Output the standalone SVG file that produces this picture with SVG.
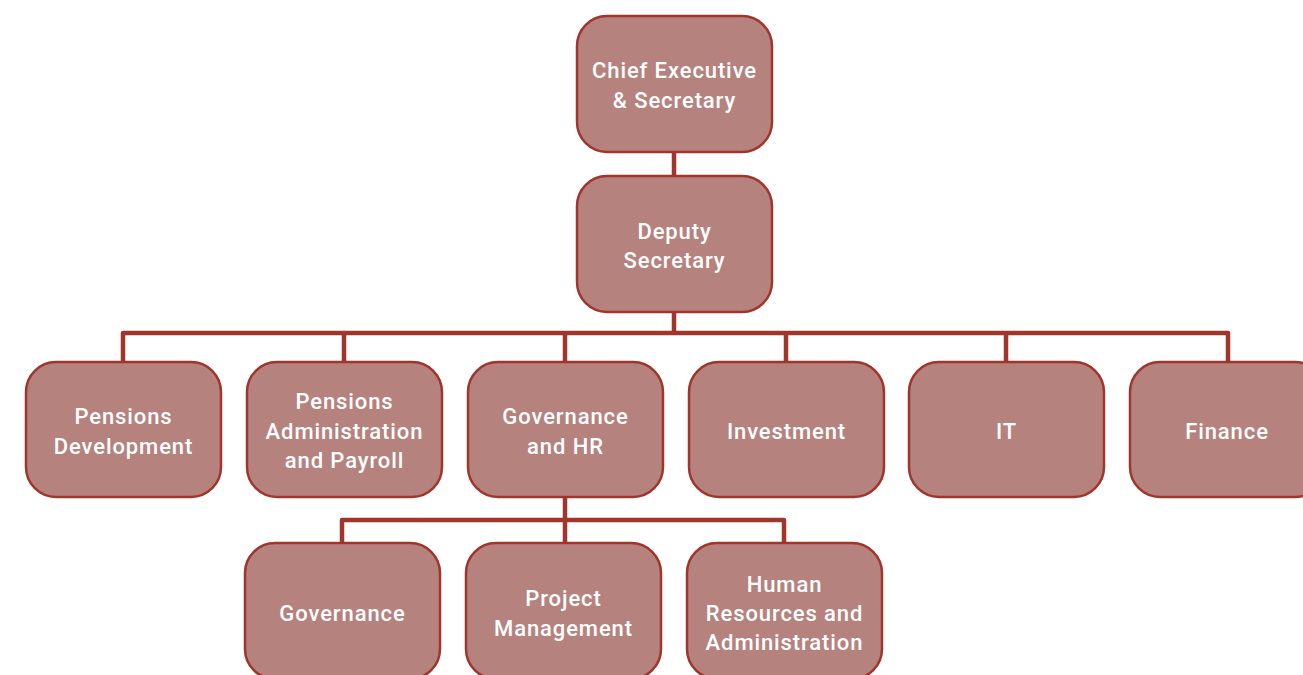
<svg xmlns="http://www.w3.org/2000/svg" width="1303" height="675" viewBox="0 0 1303 675">
<style>
.n rect{fill:#b5827e;stroke:#a0352c;stroke-width:2.5}
.n text{fill:#ffffff;font-family:Roboto,"Liberation Sans",Arial,sans-serif;font-size:22px;font-weight:500;letter-spacing:0.9px;text-anchor:middle}
.c path{fill:none;stroke:#a0352c;stroke-width:4.5;stroke-linejoin:round}
</style>
<rect width="1303" height="675" fill="#ffffff"/>
<g class="c" id="connectors">
<path d="M674,152 V176"/>
<path d="M674,312 V333 M123,362 V333 H1228 V362 M344,333 V362 M565,333 V362 M786,333 V362 M1006,333 V362"/>
<path d="M565,497 V520 M342,543 V520 H784 V543 M565,520 V543"/>
</g>
<g class="n" id="chief"><rect x="577" y="16" width="195" height="136" rx="30"/><text x="674.5" y="78">Chief Executive</text><text x="674.5" y="108">&amp; Secretary</text></g>
<g class="n" id="deputy"><rect x="577" y="176" width="195" height="136" rx="30"/><text x="674.5" y="239">Deputy</text><text x="674.5" y="268">Secretary</text></g>
<g class="n" id="pensdev"><rect x="26" y="362" width="195" height="135" rx="30"/><text x="123.5" y="424">Pensions</text><text x="123.5" y="454">Development</text></g>
<g class="n" id="pensadmin"><rect x="247" y="362" width="195" height="135" rx="30"/><text x="344.5" y="409">Pensions</text><text x="344.5" y="439">Administration</text><text x="344.5" y="468">and Payroll</text></g>
<g class="n" id="govhr"><rect x="468" y="362" width="195" height="135" rx="30"/><text x="565.5" y="424">Governance</text><text x="565.5" y="454">and HR</text></g>
<g class="n" id="investment"><rect x="689" y="362" width="195" height="135" rx="30"/><text x="786.5" y="439">Investment</text></g>
<g class="n" id="it"><rect x="909" y="362" width="195" height="135" rx="30"/><text x="1006.5" y="439">IT</text></g>
<g class="n" id="finance"><rect x="1130" y="362" width="195" height="135" rx="30"/><text x="1227" y="439">Finance</text></g>
<g class="n" id="governance"><rect x="245" y="543" width="195" height="136" rx="30"/><text x="342.5" y="621">Governance</text></g>
<g class="n" id="project"><rect x="466" y="543" width="195" height="136" rx="30"/><text x="563.5" y="606">Project</text><text x="563.5" y="636">Management</text></g>
<g class="n" id="hr"><rect x="687" y="543" width="195" height="136" rx="30"/><text x="784.5" y="592">Human</text><text x="784.5" y="621">Resources and</text><text x="784.5" y="650">Administration</text></g>
</svg>
